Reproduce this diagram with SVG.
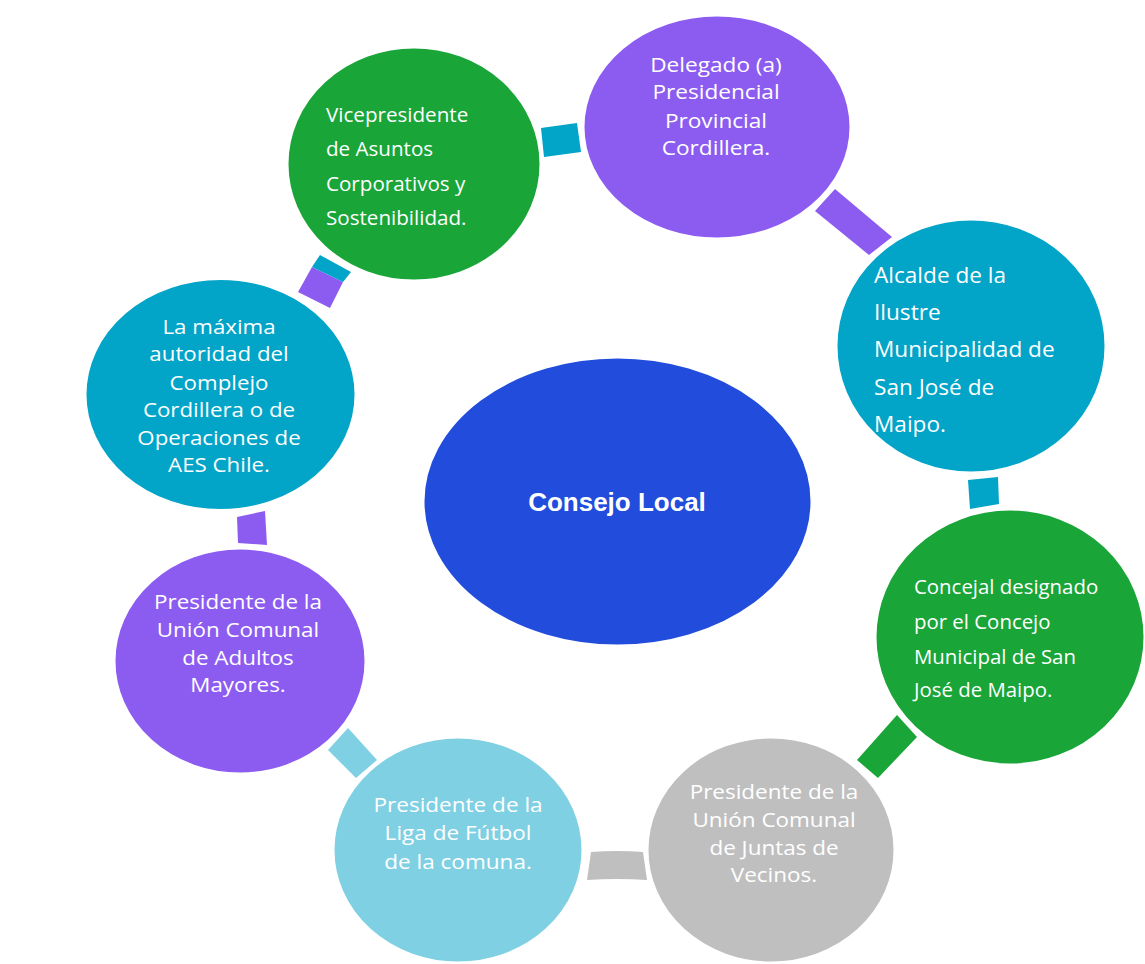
<svg xmlns="http://www.w3.org/2000/svg" width="1145" height="964" viewBox="0 0 1145 964">
<style>
.node{stroke:#FFFFFF;stroke-width:3}
.t{font-family:"Open Sans","Noto Sans",sans-serif;font-size:19.5px;fill:#FFFFFF}
.c{text-anchor:middle}
.g1{font-size:20.6px}
.g2{font-size:20.4px}
.tr{font-size:22.6px}
.green{fill:#19A538}
.purple{fill:#8C5CF1}
.teal{fill:#02A4C8}
.gray{fill:#BFBFBF}
.lblue{fill:#80D0E4}
.blue{fill:#224CDC}
.ct{font-family:"Liberation Sans",Arial,sans-serif;font-size:26px;font-weight:bold;fill:#FFFFFF;text-anchor:middle}
</style>
<rect width="1145" height="964" fill="#FFFFFF"/>
<g id="connectors">
<polygon class="teal" points="541,128 577,123 581,152 544,157"/>
<polygon class="purple" points="815,211 835,189 892,237 869,255"/>
<polygon class="teal" points="968,480 998,477 999,504 970,509"/>
<polygon class="green" points="857,760 897,715 917,737 878,778"/>
<path class="gray" d="M591,852 Q617,850 643,852 L647,880 Q617,878 587,880 Z"/>
<polygon class="lblue" points="328,750 348,728 377,760 356,778"/>
<polygon class="purple" points="237,517 265,511 267,545 238,543"/>
<polygon class="purple" points="298,292 312,267 343,282 330,308"/>
<polygon class="teal" points="312,267 320,255 351,272 343,282"/>
</g>
<g id="node-vicepresidente">
<ellipse class="node green" cx="414" cy="164" rx="127" ry="117"/>
<text class="t g1" x="326" y="122">Vicepresidente</text>
<text class="t g1" x="326" y="156">de Asuntos</text>
<text class="t g1" x="326" y="191">Corporativos y</text>
<text class="t g1" x="326" y="225">Sostenibilidad.</text>
</g>
<g id="node-delegado">
<ellipse class="node purple" cx="717" cy="127" rx="134" ry="112"/>
<g transform="matrix(1.16,0,0,1,-114.56,0)">
<text class="t c" x="716" y="72">Delegado (a)</text>
<text class="t c" x="716" y="99">Presidencial</text>
<text class="t c" x="716" y="128">Provincial</text>
<text class="t c" x="716" y="155">Cordillera.</text>
</g>
</g>
<g id="node-alcalde">
<ellipse class="node teal" cx="971" cy="346" rx="135" ry="127"/>
<text class="t tr" x="874" y="283">Alcalde de la</text>
<text class="t tr" x="874" y="320">Ilustre</text>
<text class="t tr" x="874" y="357">Municipalidad de</text>
<text class="t tr" x="874" y="395">San José de</text>
<text class="t tr" x="874" y="432">Maipo.</text>
</g>
<g id="node-concejal">
<ellipse class="node green" cx="1010" cy="637" rx="135" ry="128"/>
<text class="t g2" x="914" y="594">Concejal designado</text>
<text class="t g2" x="914" y="629">por el Concejo</text>
<text class="t g2" x="914" y="664">Municipal de San</text>
<text class="t g2" x="914" y="697">José de Maipo.</text>
</g>
<g id="node-juntas">
<ellipse class="node gray" cx="771" cy="850" rx="124" ry="113"/>
<g transform="matrix(1.153,0,0,1,-118.4,0)">
<text class="t c" x="774" y="799">Presidente de la</text>
<text class="t c" x="774" y="827">Unión Comunal</text>
<text class="t c" x="774" y="855">de Juntas de</text>
<text class="t c" x="774" y="882">Vecinos.</text>
</g>
</g>
<g id="node-futbol">
<ellipse class="node lblue" cx="458" cy="850" rx="125" ry="113"/>
<g transform="matrix(1.156,0,0,1,-71.4,0)">
<text class="t c" x="458" y="812">Presidente de la</text>
<text class="t c" x="458" y="840">Liga de Fútbol</text>
<text class="t c" x="458" y="869">de la comuna.</text>
</g>
</g>
<g id="node-adultos">
<ellipse class="node purple" cx="240" cy="661" rx="126" ry="113"/>
<g transform="matrix(1.147,0,0,1,-35,0)">
<text class="t c" x="238" y="609">Presidente de la</text>
<text class="t c" x="238" y="637">Unión Comunal</text>
<text class="t c" x="238" y="665">de Adultos</text>
<text class="t c" x="238" y="692">Mayores.</text>
</g>
</g>
<g id="node-aes">
<ellipse class="node teal" cx="220.5" cy="394.5" rx="135.5" ry="116"/>
<g transform="matrix(1.143,0,0,1,-31.3,0)">
<text class="t c" x="219" y="334">La máxima</text>
<text class="t c" x="219" y="361">autoridad del</text>
<text class="t c" x="219" y="390">Complejo</text>
<text class="t c" x="219" y="417">Cordillera o de</text>
<text class="t c" x="219" y="445">Operaciones de</text>
<text class="t c" x="219" y="472">AES Chile.</text>
</g>
</g>
<g id="node-consejo">
<ellipse class="node blue" cx="617.5" cy="501.5" rx="194.5" ry="144.5"/>
<text class="ct" x="617" y="511">Consejo Local</text>
</g>
</svg>
